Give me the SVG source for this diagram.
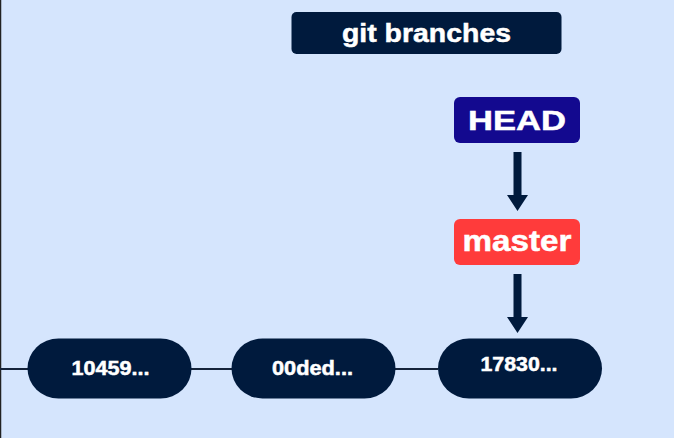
<svg xmlns="http://www.w3.org/2000/svg" width="674" height="438" viewBox="0 0 674 438">
  <defs>
    <style>
      .lbl { font-family: "Liberation Sans", Arial, Helvetica, sans-serif; font-weight: bold; fill: #ffffff; stroke: #ffffff; stroke-width: 0.5; text-anchor: middle; }
      .commit { fill: #001a3d; }
      .conn { stroke: #15233a; stroke-width: 2; fill: none; }
      .arrow { fill: #001a3d; }
    </style>
  </defs>
  <rect x="0" y="0" width="674" height="438" fill="#d5e5fd"/>
  <line x1="0.5" y1="0" x2="0.5" y2="438" stroke="#222222" stroke-width="1.5"/>

  <g id="connectors">
    <line class="conn" x1="0" y1="369" x2="28" y2="369"/>
    <line class="conn" x1="191" y1="369" x2="232" y2="369"/>
    <line class="conn" x1="395" y1="369" x2="438" y2="369"/>
    <path class="arrow" d="M513.5,152 H521.5 V195 H528 L517.5,211 L507,195 H513.5 Z"/>
    <path class="arrow" d="M513.5,274 H521.5 V317 H528 L517.5,333 L507,317 H513.5 Z"/>
  </g>

  <g id="title">
    <rect x="291.5" y="12" width="270" height="42" rx="5" fill="#001a3d"/>
    <text class="lbl" x="426.5" y="42" font-size="26" textLength="169" lengthAdjust="spacingAndGlyphs">git branches</text>
  </g>

  <g id="head">
    <rect x="454" y="97" width="126" height="46" rx="6" fill="#13098f"/>
    <text class="lbl" x="517" y="130" font-size="28" textLength="98" lengthAdjust="spacingAndGlyphs">HEAD</text>
  </g>

  <g id="master">
    <rect x="454" y="219" width="126" height="46" rx="6" fill="#ff3b3b"/>
    <text class="lbl" x="517" y="251" font-size="30" textLength="109" lengthAdjust="spacingAndGlyphs">master</text>
  </g>

  <g id="c10459">
    <rect class="commit" x="27.5" y="338.5" width="164" height="60" rx="31" ry="30"/>
    <text class="lbl" x="110.5" y="375" font-size="20" textLength="78" lengthAdjust="spacingAndGlyphs">10459...</text>
  </g>

  <g id="c00ded">
    <rect class="commit" x="231.5" y="338.5" width="164" height="60" rx="31" ry="30"/>
    <text class="lbl" x="312.5" y="375" font-size="20" textLength="81" lengthAdjust="spacingAndGlyphs">00ded...</text>
  </g>

  <g id="c17830">
    <rect class="commit" x="438" y="338.5" width="164" height="60" rx="31" ry="30"/>
    <text class="lbl" x="519" y="371" font-size="20" textLength="77" lengthAdjust="spacingAndGlyphs">17830...</text>
  </g>
</svg>
